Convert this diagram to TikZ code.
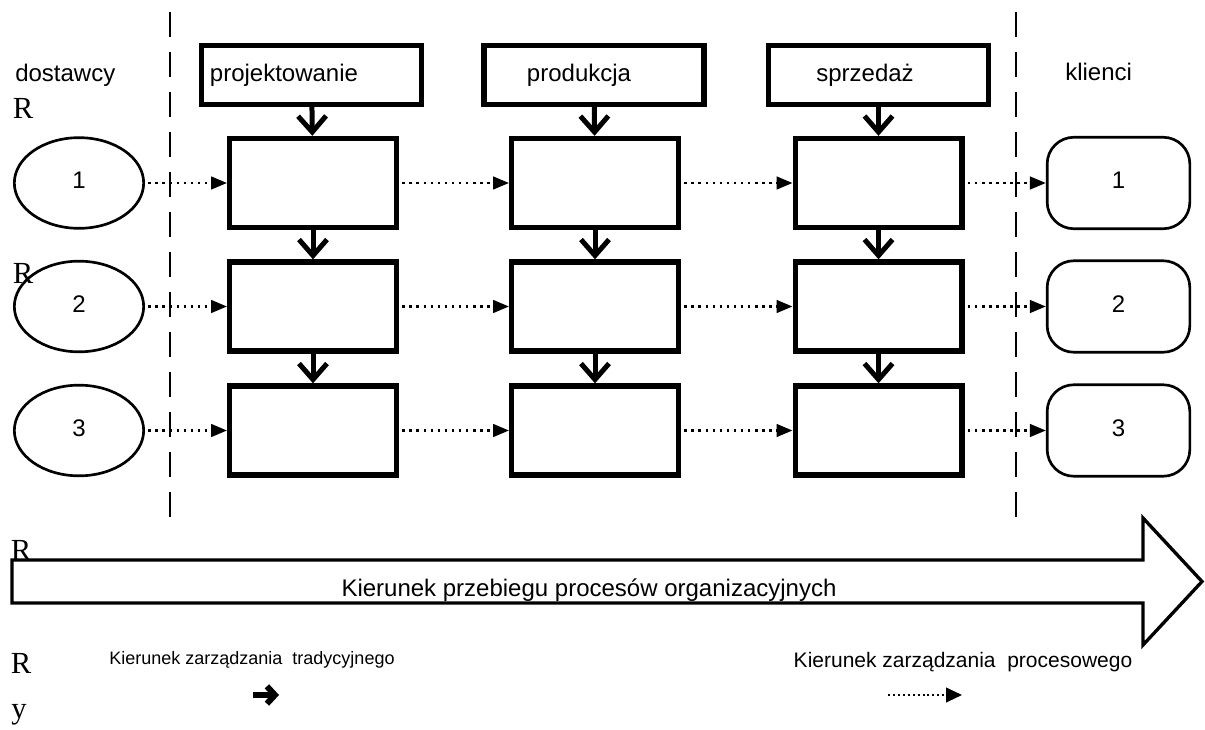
\documentclass[tikz,border=0pt]{standalone}
\usepackage{fontspec}
\setmainfont{Liberation Sans}
\newfontfamily\romfont{Liberation Serif}
\usepackage{tikz}
\usetikzlibrary{arrows.meta,shapes.geometric}

\begin{document}
\begin{tikzpicture}[x=0.75pt,y=-0.75pt,
    txt/.style={inner sep=0pt,font=\fontsize{18}{21}\selectfont},
    smalltxt/.style={inner sep=0pt,font=\fontsize{13.5}{16}\selectfont},
    midtxt/.style={inner sep=0pt,font=\fontsize{15.75}{18}\selectfont},
    romtxt/.style={inner sep=0pt,font=\romfont\fontsize{23}{26}\selectfont}]
\useasboundingbox (0,0) rectangle (1205,730);

% granice
\coordinate (G1a) at (170,12);
\coordinate (G1b) at (170,520);
\coordinate (G2a) at (1016,12);
\coordinate (G2b) at (1016,520);
\draw [line width=1.1pt,dash pattern=on 18.75pt off 11.25pt] (G1a) -- (G1b);
\draw [line width=1.1pt,dash pattern=on 18.75pt off 11.25pt] (G2a) -- (G2b);

\begin{scope}[every node/.style={rectangle,draw,line width=4pt,
                                 minimum width=165pt,minimum height=44.25pt}]
    \node (H1) at (311.5,75) {};
    \node (H2) at (594,75) {};
    \node (H3) at (878.5,75) {};
\end{scope}
\node[txt] (H1t) at (284,75) {projektowanie};
\node[txt] (H2t) at (579,75) {produkcja};
\node[txt] (H3t) at (865,75) {sprzedaż};

\begin{scope}[every node/.style={rectangle,draw,line width=4pt,
                                 minimum width=125pt,minimum height=66.75pt}]
    \node (P11) at (313,183) {};
    \node (P12) at (595,183) {};
    \node (P13) at (878.5,183) {};
    \node (P21) at (313,306.5) {};
    \node (P22) at (595,306.5) {};
    \node (P23) at (878.5,306.5) {};
    \node (P31) at (313,430.5) {};
    \node (P32) at (595,430.5) {};
    \node (P33) at (878.5,430.5) {};
\end{scope}

% dostawcy i klienci
\node[txt,anchor=west] (Dost) at (15,75) {dostawcy};
\node[txt,anchor=west] (Klie) at (1065,72) {klienci};
\begin{scope}[every node/.style={ellipse,draw,line width=2pt,txt,
                                 minimum width=97pt,minimum height=68pt}]
    \node (E1) at (79,183) {\raisebox{4pt}{1}};
    \node (E2) at (79,306.5) {\raisebox{4pt}{2}};
    \node (E3) at (79,430.5) {\raisebox{4pt}{3}};
\end{scope}
\begin{scope}[every node/.style={rectangle,rounded corners=20pt,draw,line width=2pt,txt,
                                 minimum width=107pt,minimum height=68.6pt}]
    \node (K1) at (1118.5,183) {\raisebox{4pt}{1}};
    \node (K2) at (1118.5,306.5) {\raisebox{4pt}{2}};
    \node (K3) at (1118.5,430.5) {\raisebox{4pt}{3}};
\end{scope}

\node[romtxt] (R1) at (23,108) {R};
\node[romtxt] (R2) at (23,273) {R};
\node[romtxt] (R3) at (21,550) {R};
\node[romtxt] (R4) at (21,663) {R};
\node[romtxt] (R5) at (19,715) {y};

% zarzadzanie tradycyjne
\begin{scope}[>={Straight Barb[length=12pt,width=21pt]},
              every edge/.style={draw,line width=3.75pt}]
    \path [->] (H1) edge (P11);
    \path [->] (H2) edge (P12);
    \path [->] (H3) edge (P13);
    \path [->] (P11) edge (P21);
    \path [->] (P12) edge (P22);
    \path [->] (P13) edge (P23);
    \path [->] (P21) edge (P31);
    \path [->] (P22) edge (P32);
    \path [->] (P23) edge (P33);
\end{scope}

% zarzadzanie procesowe
\begin{scope}[>={Triangle[length=12pt,width=9.5pt]},
              every edge/.style={draw,line width=1.9pt,dash pattern=on 1.9pt off 3.4pt,
                                 shorten <=2.5pt}]
    \path [->] (E1) edge (P11);
    \path [->] (P11) edge (P12);
    \path [->] (P12) edge (P13);
    \path [->] (P13) edge (K1);
    \path [->] (E2) edge (P21);
    \path [->] (P21) edge (P22);
    \path [->] (P22) edge (P23);
    \path [->] (P23) edge (K2);
    \path [->] (E3) edge (P31);
    \path [->] (P31) edge (P32);
    \path [->] (P32) edge (P33);
    \path [->] (P33) edge (K3);
\end{scope}

% kierunek przebiegu
\draw [line width=2.5pt,line join=miter] (12,560) -- (1143,560) -- (1143,518) -- (1202,581.5)
    -- (1143,645) -- (1143,603) -- (12,603) -- cycle;
\node[txt] (Kprz) at (589,590) {Kierunek przebiegu procesów organizacyjnych};

% legenda
\node[smalltxt] (Ltrad) at (252,660) {Kierunek zarządzania\ \ tradycyjnego};
\node[midtxt] (Lproc) at (963,662) {Kierunek zarządzania\ \ procesowego};
\coordinate (La1) at (253,695);
\coordinate (La2) at (279,695);
\coordinate (Lb1) at (888,695);
\coordinate (Lb2) at (962,695);
\draw [line width=4.5pt,-{Straight Barb[length=6pt,width=13pt]}] (La1) -- (La2);
\draw [line width=1.5pt,dash pattern=on 1.5pt off 2.2pt,-{Triangle[length=12pt,width=11pt]}] (Lb1) -- (Lb2);
\end{tikzpicture}
\end{document}
